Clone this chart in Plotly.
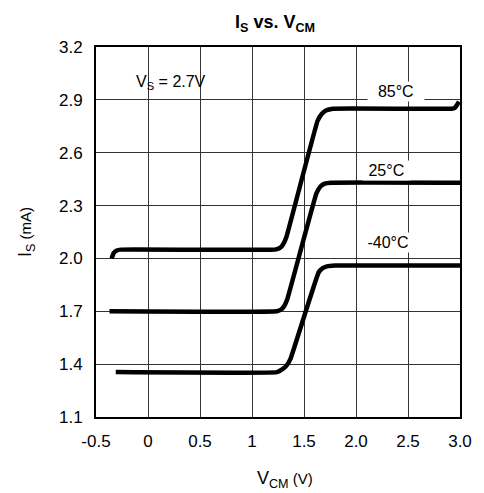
import plotly.graph_objects as go

# Supply current vs. common-mode voltage, VS = 2.7 V
v_85 = [-0.35, -0.33, -0.30, -0.26, 1.22, 1.27, 1.30, 1.33, 1.63, 1.67, 1.71, 1.78, 2.92, 2.95, 2.97, 2.99]
i_85 = [2.00, 2.03, 2.045, 2.05, 2.05, 2.06, 2.08, 2.12, 2.78, 2.82, 2.84, 2.85, 2.85, 2.855, 2.87, 2.89]

v_25 = [-0.37, 1.24, 1.28, 1.31, 1.34, 1.62, 1.66, 1.70, 1.76, 3.0]
i_25 = [1.70, 1.70, 1.71, 1.73, 1.77, 2.37, 2.41, 2.425, 2.43, 2.43]

v_m40 = [-0.31, 1.24, 1.29, 1.33, 1.37, 1.64, 1.68, 1.72, 1.80, 3.0]
i_m40 = [1.355, 1.355, 1.37, 1.39, 1.43, 1.92, 1.945, 1.955, 1.96, 1.96]

x_ticks = [-0.5, 0, 0.5, 1, 1.5, 2.0, 2.5, 3.0]
x_tick_text = ["-0.5", "0", "0.5", "1", "1.5", "2.0", "2.5", "3.0"]
y_ticks = [1.1, 1.4, 1.7, 2.0, 2.3, 2.6, 2.9, 3.2]
y_tick_text = ["1.1", "1.4", "1.7", "2.0", "2.3", "2.6", "2.9", "3.2"]

FONT = "Arial, Liberation Sans, sans-serif"

fig = go.Figure()
for xs, ys, name in [(v_85, i_85, "85°C"), (v_25, i_25, "25°C"), (v_m40, i_m40, "-40°C")]:
    fig.add_trace(go.Scatter(x=xs, y=ys, mode="lines", name=name,
                             line=dict(color="black", width=4.5, shape="spline", smoothing=0.3),
                             showlegend=False, hoverinfo="skip"))

axis_common = dict(showgrid=True, gridcolor="#333333", gridwidth=1,
                   showline=True, linecolor="black", linewidth=2, mirror=True,
                   ticks="", zeroline=False,
                   tickfont=dict(family=FONT, size=17, color="black"))

fig.update_xaxes(range=[-0.5, 3.0], tickvals=x_ticks, ticktext=x_tick_text,
                 ticklabelstandoff=8, **axis_common)
fig.update_yaxes(range=[1.1, 3.2], tickvals=y_ticks, ticktext=y_tick_text,
                 ticklabelstandoff=8, **axis_common)

labels = [
    (0.22, 3.0, "V<sub>S</sub> = 2.7V", False),
    (2.38, 2.945, "  85°C  ", True),
    (2.29, 2.50, " 25°C ", True),
    (2.31, 2.09, " -40°C ", True),
]
annotations = []
for x, y, t, bg in labels:
    annotations.append(dict(x=x, y=y, xref="x", yref="y", text=t, showarrow=False,
                            font=dict(family=FONT, size=16, color="black"),
                            bgcolor="white" if bg else None, borderpad=1))

annotations.append(dict(x=-0.192, y=0.5, xref="paper", yref="paper", textangle=-90,
                        xanchor="center", yanchor="middle",
                        text="<span style='font-size:18px'>I<sub>S</sub></span> (mA)",
                        showarrow=False, font=dict(family=FONT, size=15, color="black")))
annotations.append(dict(x=0.52, y=-0.17, xref="paper", yref="paper",
                        xanchor="center", yanchor="middle",
                        text="<span style='font-size:18px'>V<sub>CM</sub></span> (V)",
                        showarrow=False, font=dict(family=FONT, size=15, color="black")))

fig.update_layout(
    width=484, height=493,
    margin=dict(l=96, r=18, t=47, b=76),
    paper_bgcolor="white", plot_bgcolor="white",
    title=dict(text="<b>I<sub>S</sub> vs. V<sub>CM</sub></b>", x=275 / 484, y=1 - 22 / 493,
               xref="container", yref="container", xanchor="center", yanchor="middle",
               font=dict(family=FONT, size=18, color="black")),
    annotations=annotations,
)

fig.write_html("out.html")
